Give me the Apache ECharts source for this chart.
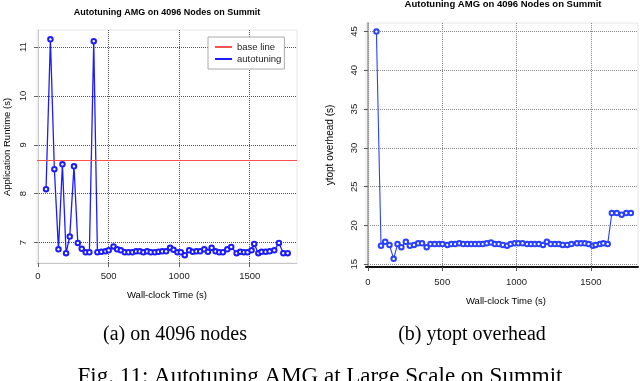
<!DOCTYPE html>
<html><head><meta charset="utf-8">
<script src="https://cdn.jsdelivr.net/npm/echarts/dist/echarts.min.js"></script>
<style>html,body{margin:0;padding:0;background:#fff;}#c{width:640px;height:381px;}</style>
</head><body><div id="c"></div>
<script>
// Shared wall-clock times (s)
const timeSec = [57, 88, 116, 145, 173, 199, 225, 255, 282, 310, 338, 364, 395,
  421, 449, 478, 501, 535, 561, 587, 615, 641, 669,
  695, 721, 747, 773, 799, 828, 854, 880, 908, 936,
  960, 988, 1012, 1040, 1071, 1097, 1123, 1149, 1178, 1204,
  1230, 1258, 1284, 1310, 1341, 1369, 1407, 1433, 1459, 1485,
  1513, 1532, 1561, 1584, 1613, 1641, 1674, 1707, 1738, 1769];
// (a) application runtime (s)
const runtime = [8.09, 11.16, 8.50, 6.86, 8.60, 6.78, 7.12, 8.56, 6.99, 6.87, 6.80, 6.80, 11.12,
  6.80, 6.81, 6.82, 6.84, 6.92, 6.86, 6.84, 6.80, 6.80, 6.80,
  6.82, 6.82, 6.80, 6.82, 6.80, 6.80, 6.81, 6.82, 6.82, 6.89,
  6.85, 6.80, 6.80, 6.74, 6.84, 6.81, 6.82, 6.82, 6.86, 6.81,
  6.89, 6.82, 6.80, 6.80, 6.86, 6.91, 6.78, 6.81, 6.80, 6.80,
  6.84, 6.97, 6.78, 6.81, 6.81, 6.82, 6.84, 6.99, 6.78, 6.78];
const baselineRuntime = 8.69;
// (b) ytopt overhead (s)
const overhead = [45.0, 17.4, 17.9, 17.5, 15.7, 17.6, 17.2, 17.9, 17.4, 17.5, 17.7, 17.7, 17.2,
  17.6, 17.6, 17.6, 17.6, 17.5, 17.6, 17.6, 17.7, 17.6, 17.6,
  17.6, 17.6, 17.6, 17.6, 17.7, 17.8, 17.6, 17.6, 17.5, 17.4,
  17.6, 17.7, 17.7, 17.7, 17.6, 17.6, 17.6, 17.6, 17.5, 17.9,
  17.6, 17.6, 17.6, 17.5, 17.5, 17.6, 17.7, 17.7, 17.7, 17.6,
  17.4, 17.5, 17.6, 17.7, 17.6, 21.6, 21.6, 21.4, 21.6, 21.6];

const chartTitle = 'Autotuning AMG on 4096 Nodes on Summit';
const xTitle = 'Wall-clock Time (s)';
const yTitleA = 'Application Runtime (s)';
const yTitleB = 'ytopt overhead (s)';
const captionA = '(a) on 4096 nodes';
const captionB = '(b) ytopt overhead';
const figCaption = 'Fig. 11: Autotuning AMG at Large Scale on Summit';

const SANS = '"Liberation Sans", Arial, sans-serif';
const SERIF = '"Liberation Serif", "Times New Roman", serif';

const chart = echarts.init(document.getElementById('c'));

function txt(text, x, y, font, rot) {
  return {type: 'text', x: x, y: y, rotation: rot || 0, silent: true,
    style: {text: text, font: font, fill: '#000', align: 'center', verticalAlign: 'middle'}};
}
const plain = v => String(Math.round(v));

const option = {
  animation: false,
  backgroundColor: '#fff',
  textStyle: {fontFamily: SANS},
  grid: [
    {left: 37, top: 30, width: 260, height: 233, show: true, borderColor: '#e6e6e6', borderWidth: 1},
    {left: 366, top: 23, width: 272, height: 244, show: true, borderColor: '#e6e6e6', borderWidth: 1}
  ],
  xAxis: [
    {gridIndex: 0, type: 'value', min: -7, max: 1835, splitNumber: 4,
      axisLine: {lineStyle: {color: '#c8c8c8', width: 1}},
      axisTick: {show: true, length: 4, lineStyle: {color: '#666'}},
      axisLabel: {showMinLabel: false, showMaxLabel: false, fontSize: 9.5, color: '#222', margin: 8, fontFamily: SANS, formatter: plain},
      splitLine: {show: true, showMinLine: false, showMaxLine: false, lineStyle: {type: 'dotted', color: '#555'}}},
    {gridIndex: 1, type: 'value', min: -13, max: 1817, splitNumber: 4,
      axisLine: {lineStyle: {color: '#111', width: 2}},
      axisTick: {show: true, length: 4, lineStyle: {color: '#555'}},
      axisLabel: {showMinLabel: false, showMaxLabel: false, fontSize: 9.5, color: '#222', margin: 10, fontFamily: SANS, formatter: plain},
      splitLine: {show: true, showMinLine: false, showMaxLine: false, lineStyle: {type: 'dotted', color: '#888'}}}
  ],
  yAxis: [
    {gridIndex: 0, type: 'value', min: 6.58, max: 11.35,
      axisLine: {show: true, lineStyle: {color: '#c8c8c8', width: 1}},
      axisTick: {show: true, length: 4, lineStyle: {color: '#666'}},
      axisLabel: {rotate: 90, showMinLabel: false, showMaxLabel: false, fontSize: 9.5, color: '#222', margin: 9, fontFamily: SANS},
      splitLine: {show: true, showMinLine: false, showMaxLine: false, lineStyle: {type: 'dotted', color: '#555'}}},
    {gridIndex: 1, type: 'value', min: 14.65, max: 46.1,
      axisLine: {show: true, lineStyle: {color: '#999', width: 1.5}},
      axisTick: {show: true, length: 4, lineStyle: {color: '#555'}},
      axisLabel: {rotate: 90, showMinLabel: false, showMaxLabel: false, fontSize: 9.5, color: '#222', margin: 7, fontFamily: SANS},
      splitLine: {show: true, showMinLine: false, showMaxLine: false, lineStyle: {type: 'dotted', color: '#888'}}}
  ],
  legend: {
    data: [{name: 'base line', icon: 'rect'}, {name: 'autotuning', icon: 'rect'}],
    orient: 'vertical', left: 208, top: 37,
    itemWidth: 17, itemHeight: 2, itemGap: 2,
    backgroundColor: '#fff', borderColor: '#aaa', borderWidth: 1, borderRadius: 0,
    padding: [5, 3, 5, 7],
    textStyle: {fontSize: 9.5, color: '#222', fontFamily: SANS}
  },
  series: [
    {name: 'base line', type: 'line', xAxisIndex: 0, yAxisIndex: 0, data: [],
      itemStyle: {color: '#ff5050'}, lineStyle: {color: '#ff5050', width: 1},
      markLine: {silent: true, symbol: 'none', label: {show: false},
        lineStyle: {color: '#ff5050', width: 1, type: 'solid'},
        data: [{yAxis: baselineRuntime}]}},
    {name: 'autotuning', type: 'line', xAxisIndex: 0, yAxisIndex: 0,
      data: timeSec.map((t, i) => [t, runtime[i]]),
      symbol: 'emptyCircle', symbolSize: 4.5,
      itemStyle: {color: '#1c1cff', borderWidth: 1},
      lineStyle: {color: '#1c1cff', width: 1.3}},
    {name: 'overhead', type: 'line', xAxisIndex: 1, yAxisIndex: 1,
      data: timeSec.map((t, i) => [t, overhead[i]]),
      symbol: 'emptyCircle', symbolSize: 4.5,
      itemStyle: {color: '#2a40ff', borderWidth: 1},
      lineStyle: {color: '#2a40ff', width: 1.1}}
  ],
  graphic: [
    txt(chartTitle, 167, 13, 'bold 9px ' + SANS),
    txt(chartTitle, 503, 4, 'bold 9.5px ' + SANS),
    txt(yTitleA, 7, 147, '9.5px ' + SANS, Math.PI / 2),
    txt(yTitleB, 330, 145, '10px ' + SANS, Math.PI / 2),
    txt(xTitle, 167, 295, '9.5px ' + SANS),
    txt(xTitle, 506, 301, '9.5px ' + SANS),
    txt(captionA, 175, 335, '20px ' + SERIF),
    txt(captionB, 472, 335, '20px ' + SERIF),
    txt(figCaption, 320, 377, '23px ' + SERIF)
  ]
};
chart.setOption(option);
</script>
</body></html>
